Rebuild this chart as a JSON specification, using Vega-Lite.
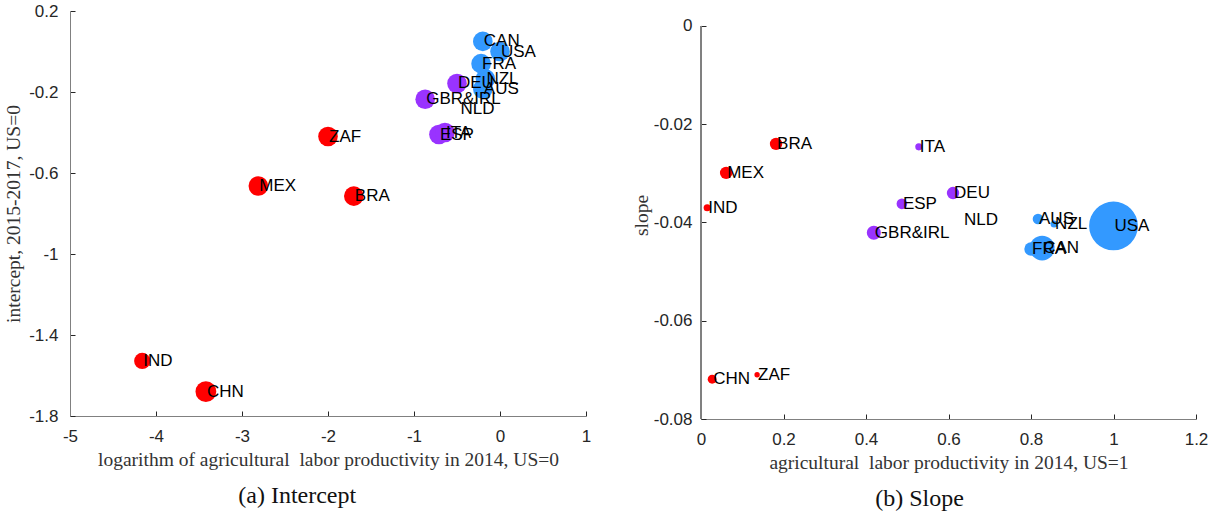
{
  "$schema": "https://vega.github.io/schema/vega-lite/v6.json",
  "padding": {"left": 3, "top": 2, "right": 5, "bottom": 2},
  "background": "white",
  "spacing": 40,
  "datasets": {
    "intercept": [
      {"country": "IND", "x": -4.16, "y": -1.528, "weight": 11, "group": "A"},
      {"country": "CHN", "x": -3.42, "y": -1.68, "weight": 18, "group": "A"},
      {"country": "MEX", "x": -2.81, "y": -0.664, "weight": 16, "group": "A"},
      {"country": "ZAF", "x": -2.0, "y": -0.42, "weight": 16, "group": "A"},
      {"country": "BRA", "x": -1.7, "y": -0.714, "weight": 16, "group": "A"},
      {"country": "GBR&IRL", "x": -0.87, "y": -0.236, "weight": 16, "group": "B"},
      {"country": "ESP", "x": -0.71, "y": -0.41, "weight": 16, "group": "B"},
      {"country": "ITA", "x": -0.64, "y": -0.40, "weight": 16, "group": "B"},
      {"country": "NLD", "x": -0.47, "y": -0.285, "weight": 0, "group": "B"},
      {"country": "DEU", "x": -0.5, "y": -0.158, "weight": 16, "group": "B"},
      {"country": "AUS", "x": -0.2, "y": -0.185, "weight": 16, "group": "C"},
      {"country": "NZL", "x": -0.17, "y": -0.135, "weight": 16, "group": "C"},
      {"country": "FRA", "x": -0.22, "y": -0.06, "weight": 16, "group": "C"},
      {"country": "CAN", "x": -0.2, "y": 0.05, "weight": 16, "group": "C"},
      {"country": "USA", "x": 0.0, "y": 0.0, "weight": 16, "group": "C"}
    ],
    "slope": [
      {"country": "IND", "x": 0.015, "y": -0.037, "weight": 2.1, "group": "A"},
      {"country": "CHN", "x": 0.027, "y": -0.0719, "weight": 3.3, "group": "A"},
      {"country": "MEX", "x": 0.061, "y": -0.0299, "weight": 6.4, "group": "A"},
      {"country": "ZAF", "x": 0.136, "y": -0.071, "weight": 1.2, "group": "A"},
      {"country": "BRA", "x": 0.182, "y": -0.024, "weight": 6.4, "group": "A"},
      {"country": "GBR&IRL", "x": 0.419, "y": -0.0421, "weight": 8.3, "group": "B"},
      {"country": "ESP", "x": 0.487, "y": -0.0362, "weight": 4.7, "group": "B"},
      {"country": "ITA", "x": 0.528, "y": -0.0246, "weight": 2.1, "group": "B"},
      {"country": "DEU", "x": 0.611, "y": -0.034, "weight": 6.4, "group": "B"},
      {"country": "NLD", "x": 0.635, "y": -0.0395, "weight": 0, "group": "B"},
      {"country": "FRA", "x": 0.80, "y": -0.0454, "weight": 7.4, "group": "C"},
      {"country": "AUS", "x": 0.817, "y": -0.0393, "weight": 4.7, "group": "C"},
      {"country": "CAN", "x": 0.827, "y": -0.0452, "weight": 25.7, "group": "C"},
      {"country": "NZL", "x": 0.856, "y": -0.0403, "weight": 2.1, "group": "C"},
      {"country": "USA", "x": 1.0, "y": -0.0407, "weight": 99, "group": "C"}
    ]
  },
  "config": {
    "view": {"stroke": null},
    "axis": {
      "grid": false,
      "domainColor": "#808080",
      "domainWidth": 1,
      "tickColor": "#262626",
      "tickWidth": 1,
      "tickSize": -5,
      "labelPadding": 17,
      "labelFont": "Liberation Sans",
      "labelFontSize": 17,
      "labelColor": "#262626",
      "labelFlush": false,
      "labelOverlap": false,
      "labelBound": false,
      "titleFont": "Liberation Serif",
      "titleFontSize": 19.5,
      "titleFontWeight": "normal",
      "titleColor": "#333333"
    },
    "title": {"font": "Liberation Serif", "fontSize": 24, "fontWeight": "normal", "color": "#111111", "anchor": "middle", "frame": "bounds"}
  },
  "hconcat": [
    {
      "width": 516,
      "height": 405,
      "data": {"name": "intercept"},
      "title": {"text": "(a) Intercept", "orient": "bottom", "offset": 15, "frame": "bounds"},
      "encoding": {
        "x": {"field": "x", "type": "quantitative",
              "scale": {"domain": [-5, 1], "nice": false, "zero": false},
              "axis": {"values": [-5, -4, -3, -2, -1, 0, 1], "labelExpr": "'' + datum.value",
                       "title": "logarithm of agricultural\u00a0 labor productivity in 2014, US=0", "titlePadding": 6}},
        "y": {"field": "y", "type": "quantitative",
              "scale": {"domain": [-1.8, 0.2], "nice": false, "zero": false},
              "axis": {"values": [-1.8, -1.4, -1, -0.6, -0.2, 0.2], "labelExpr": "'' + datum.value",
                       "title": "intercept, 2015-2017, US=0", "titlePadding": 5}}
      },
      "layer": [
        {"mark": {"type": "circle", "opacity": 1},
         "encoding": {
           "size": {"field": "weight", "type": "quantitative", "scale": {"domain": [0, 100], "range": [0, 2400], "zero": true}, "legend": null},
           "color": {"field": "group", "type": "nominal", "scale": {"domain": ["A", "B", "C"], "range": ["#ff0000", "#9933ff", "#3399ff"]}, "legend": null}
         }},
        {"mark": {"type": "text", "align": "left", "baseline": "middle", "dx": 1, "font": "Liberation Sans", "fontSize": 17, "color": "#000000"},
         "encoding": {"text": {"field": "country"}}}
      ]
    },
    {
      "width": 495,
      "height": 408,
      "data": {"name": "slope"},
      "title": {"text": "(b) Slope", "orient": "bottom", "offset": 15, "frame": "bounds"},
      "encoding": {
        "x": {"field": "x", "type": "quantitative",
              "scale": {"domain": [0, 1.2], "nice": false},
              "axis": {"values": [0, 0.2, 0.4, 0.6, 0.8, 1, 1.2], "labelExpr": "'' + datum.value",
                       "title": "agricultural\u00a0 labor productivity in 2014, US=1", "titlePadding": 6}},
        "y": {"field": "y", "type": "quantitative",
              "scale": {"domain": [-0.08, 0.003053], "nice": false, "zero": false},
              "axis": {"values": [-0.08, -0.06, -0.04, -0.02, 0], "labelExpr": "'' + datum.value",
                       "title": "slope", "titlePadding": 2, "labelPadding": 14, "domain": false}}
      },
      "layer": [
        {"mark": {"type": "rule", "color": "#808080", "strokeWidth": 1},
         "encoding": {"x": {"datum": 0}, "y": {"datum": -0.08}, "y2": {"datum": 0}}},
        {"mark": {"type": "circle", "opacity": 1},
         "encoding": {
           "size": {"field": "weight", "type": "quantitative", "scale": {"domain": [0, 100], "range": [0, 2400], "zero": true}, "legend": null},
           "color": {"field": "group", "type": "nominal", "scale": {"domain": ["A", "B", "C"], "range": ["#ff0000", "#9933ff", "#3399ff"]}, "legend": null}
         }},
        {"mark": {"type": "text", "align": "left", "baseline": "middle", "dx": 1, "font": "Liberation Sans", "fontSize": 17, "color": "#000000"},
         "encoding": {"text": {"field": "country"}}}
      ]
    }
  ]
}
